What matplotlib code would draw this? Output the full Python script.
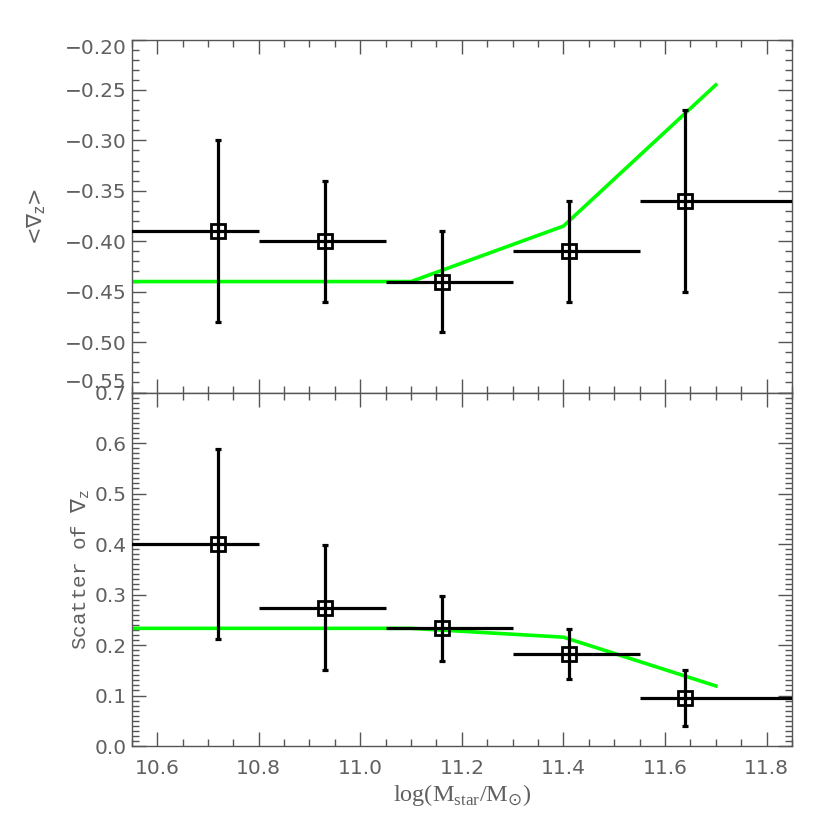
import matplotlib
matplotlib.use("Agg")
import matplotlib.pyplot as plt
from matplotlib.ticker import MultipleLocator, FormatStrFormatter
import matplotlib.transforms as mtransforms

# ---- data ----
mass = [10.72, 10.93, 11.16, 11.41, 11.64]
bin_lo = [10.50, 10.80, 11.05, 11.30, 11.55]
bin_hi = [10.80, 11.05, 11.30, 11.55, 11.95]

grad_mean = [-0.39, -0.40, -0.44, -0.41, -0.36]
grad_mean_hi = [-0.30, -0.34, -0.39, -0.36, -0.27]
grad_mean_lo = [-0.48, -0.46, -0.49, -0.46, -0.45]

grad_scatter = [0.400, 0.274, 0.233, 0.182, 0.095]
grad_scatter_hi = [0.589, 0.398, 0.298, 0.232, 0.151]
grad_scatter_lo = [0.211, 0.151, 0.169, 0.133, 0.040]

model_x = [10.50, 11.10, 11.40, 11.70]
model_mean = [-0.44, -0.44, -0.385, -0.245]
model_scatter = [0.233, 0.233, 0.2155, 0.119]

top_ticks = [-0.55, -0.50, -0.45, -0.40, -0.35, -0.30, -0.25, -0.20]
top_ticklabels = ["\u22120.55", "\u22120.50", "\u22120.45", "\u22120.40",
                  "\u22120.35", "\u22120.30", "\u22120.25", "\u22120.20"]

GRAY = "#555555"
LABGRAY = "#606060"

fig = plt.figure(figsize=(8.3, 8.3), dpi=100)
ax1 = fig.add_axes([0.1587, 0.5271, 0.9542 - 0.1587, 0.9524 - 0.5271])
ax2 = fig.add_axes([0.1587, 0.1012, 0.9542 - 0.1587, 0.5271 - 0.1012])


def draw(ax, y, yhi, ylo, model):
    xerr = [[m - l for m, l in zip(mass, bin_lo)], [h - m for m, h in zip(mass, bin_hi)]]
    yerr = [[v - l for v, l in zip(y, ylo)], [h - v for v, h in zip(y, yhi)]]
    ax.plot(model_x, model, color="#00ff00", lw=2.6, zorder=2)
    ax.errorbar(mass, y, xerr=xerr, fmt="none", ecolor="black",
                elinewidth=2.3, capsize=0, zorder=3)
    ax.errorbar(mass, y, yerr=yerr, fmt="none", ecolor="black",
                elinewidth=2.3, capsize=2.3, capthick=2.3, zorder=3)
    ax.plot(mass, y, ls="none", marker="s", ms=10, mfc="none", mec="black",
            mew=2.0, zorder=4)
    ax.set_xlim(10.55, 11.85)
    ax.xaxis.set_major_locator(MultipleLocator(0.2))
    ax.xaxis.set_minor_locator(MultipleLocator(0.05))
    ax.tick_params(which="both", direction="in", top=True, right=True,
                   color=GRAY, labelcolor=LABGRAY, labelsize=14.5)
    ax.tick_params(which="major", length=10, width=1)
    ax.tick_params(which="minor", length=5, width=1)
    for s in ax.spines.values():
        s.set_color(GRAY)
        s.set_linewidth(1)


draw(ax1, grad_mean, grad_mean_hi, grad_mean_lo, model_mean)
ax1.set_ylim(-0.55, -0.20)
ax1.yaxis.set_minor_locator(MultipleLocator(0.01))
ax1.set_yticks(top_ticks)
ax1.set_yticklabels(top_ticklabels)
ax1.tick_params(labelbottom=False)
ax1.set_ylabel("<\u2207$_{\\mathregular{z}}$>", fontsize=15, color=LABGRAY, labelpad=12)

draw(ax2, grad_scatter, grad_scatter_hi, grad_scatter_lo, model_scatter)
ax2.set_ylim(0.0, 0.7)
ax2.yaxis.set_major_locator(MultipleLocator(0.1))
ax2.yaxis.set_minor_locator(MultipleLocator(0.01))
ax2.yaxis.set_major_formatter(FormatStrFormatter("%.1f"))
ax2.set_ylabel(r"Scatter of $\nabla_{\mathregular{z}}$", fontsize=15, color=LABGRAY,
               family="Liberation Mono", labelpad=2)
ax2.set_xlabel(r"log(M$_{\mathregular{star}}$/M$_{\odot}$)", fontsize=17.5, color=LABGRAY,
               family="Liberation Serif", labelpad=3)
ax2.xaxis.set_major_formatter(FormatStrFormatter("%.1f"))
ax2.tick_params(axis="x", pad=9)

fig.canvas.draw()


def shift(label, dy):
    label.set_transform(label.get_transform() +
                        mtransforms.ScaledTranslation(0, dy / 100.0, fig.dpi_scale_trans))


yl1 = ax1.get_yticklabels()
shift(yl1[0], 12)
shift(yl1[-1], -7)
yl2 = ax2.get_yticklabels()
shift(yl2[0], 6)
shift(yl2[-1], -12)

fig.savefig("out.png", dpi=100)
